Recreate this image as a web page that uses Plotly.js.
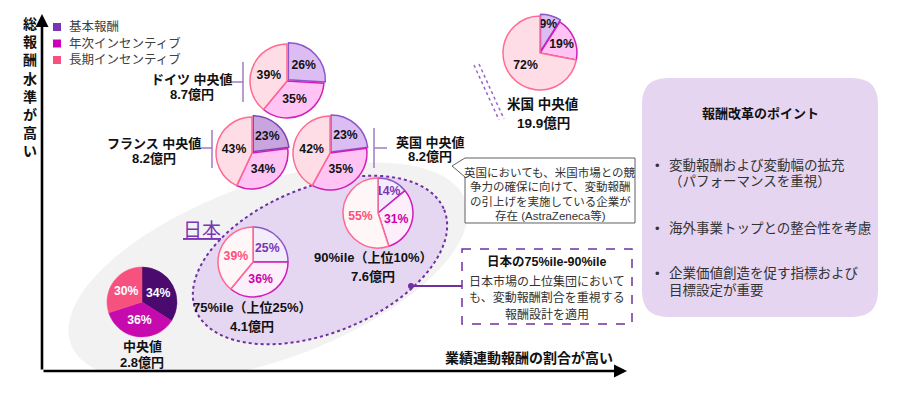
<!DOCTYPE html>
<html><head><meta charset="utf-8">
<script src="https://cdn.plot.ly/plotly-3.0.1.min.js"></script>
<style>html,body{margin:0;padding:0;background:#fff}</style>
</head><body><div id="chart" style="width:900px;height:396px"></div>
<script>
// ---------------- DATA ----------------
const components = ['基本報酬', '年次インセンティブ', '長期インセンティブ'];
const markets = ['ドイツ 中央値', 'フランス 中央値', '英国 中央値', '米国 中央値', '90%ile（上位10%）', '75%ile（上位25%）', '中央値'];
const totalPay = [8.7, 8.2, 8.2, 19.9, 7.6, 4.1, 2.8];   // 億円
const baseShare = [26, 23, 23, 9, 14, 25, 34];
const annualShare = [35, 34, 35, 19, 31, 36, 36];
const longShare = [39, 43, 42, 72, 55, 39, 30];
const yAxisLabel = '総報酬水準が高い';
const xAxisLabel = '業績連動報酬の割合が高い';
const japanLabel = '日本';
const ukNote = ['英国においても、米国市場との競', '争力の確保に向けて、変動報酬', 'の引上げを実施している企業が', '存在 (AstraZeneca等)'];
const japanNoteTitle = '日本の75%ile-90%ile';
const japanNote = ['日本市場の上位集団において', 'も、変動報酬割合を重視する', '報酬設計を適用'];
const reformTitle = '報酬改革のポイント';
const reformPoints = [['変動報酬および変動幅の拡充', '（パフォーマンスを重視）'], ['海外事業トップとの整合性を考慮'], ['企業価値創造を促す指標および', '目標設定が重要']];

// ---------------- STYLE / GEOMETRY ----------------
const W = 900, H = 396;
const FONT = 'Liberation Sans, Noto Sans CJK JP, sans-serif';
const X = px => px / W, Y = py => 1 - py / H;
const P = (x, y) => `${(x / W).toFixed(5)},${(1 - y / H).toFixed(5)}`;

const pieGeom = [
  {cx: 287, cy: 81, r: 37, pull: 0.05, style: 'intl', lx: 192, ly1: 79, ly2: 95},
  {cx: 252, cy: 153, r: 36, pull: 0.05, style: 'intlDark', lx: 154, ly1: 143, ly2: 158},
  {cx: 330, cy: 153, r: 37, pull: 0.04, style: 'intl', lx: 430, ly1: 142, ly2: 157},
  {cx: 540, cy: 53, r: 37, pull: 0.05, style: 'intl', lx: 543, ly1: 104, ly2: 123},
  {cx: 378, cy: 213, r: 35, pull: 0, style: 'jpLight', lx: 373, ly1: 257, ly2: 276},
  {cx: 253, cy: 262, r: 35, pull: 0, style: 'jpLight', lx: 252, ly1: 307, ly2: 326},
  {cx: 142, cy: 302, r: 35, pull: 0, style: 'jpSolid', lx: 142, ly1: 346, ly2: 362}
];
const styles = {
  intl: {fill: ['#dcbdf3', '#ffc3f4', '#ffdde7'], line: ['#8e55c8', '#d21cba', '#ff6a92'], text: ['#111', '#111', '#111']},
  intlDark: {fill: ['#c9a5df', '#ffc3f4', '#ffdde7'], line: ['#7e45b8', '#d21cba', '#ff6a92'], text: ['#111', '#111', '#111']},
  jpLight: {fill: ['#f3ecfb', '#fdeefb', '#fff6f8'], line: ['#8e55c8', '#d21cba', '#ff6a92'], text: ['#7a35b5', '#cc00aa', '#ff4f7b']},
  jpSolid: {fill: ['#4a0a6e', '#c70aae', '#f7527f'], line: ['#4a0a6e', '#c70aae', '#f7527f'], text: ['#fff', '#fff', '#fff']}
};
const legendColors = ['#7a35b5', '#cc00bb', '#f7527f'];

// ---------------- TRACES ----------------
const traces = markets.map((m, i) => {
  const g = pieGeom[i], s = styles[g.style];
  const R = g.r * (1 + g.pull);
  return {
    type: 'pie', name: m, labels: components,
    values: [baseShare[i], annualShare[i], longShare[i]],
    sort: false, direction: 'clockwise', rotation: 0,
    pull: [g.pull, 0, 0],
    domain: {x: [X(g.cx - R), X(g.cx + R)], y: [Y(g.cy + R), Y(g.cy - R)]},
    marker: {colors: s.fill, line: {color: s.line, width: g.style === 'jpSolid' ? 0.5 : 1.5}},
    texttemplate: '%{value}%', textposition: 'inside', insidetextorientation: 'horizontal',
    textfont: {family: FONT, size: 13, color: s.text, weight: 'bold'},
    hoverinfo: 'skip', showlegend: false
  };
});

// ---------------- SHAPES ----------------
function ellipsePath(cx, cy, a, b, deg) {
  const th = deg * Math.PI / 180, n = 90; let d = '';
  for (let k = 0; k <= n; k++) {
    const t = 2 * Math.PI * k / n;
    const x = cx + a * Math.cos(t) * Math.cos(th) + b * Math.sin(t) * Math.sin(th);
    const y = cy - a * Math.cos(t) * Math.sin(th) + b * Math.sin(t) * Math.cos(th);
    d += (k === 0 ? 'M' : 'L') + P(x, y) + ' ';
  }
  return d + 'Z';
}
function roundRect(x0, y0, x1, y1, r) {
  return `M${P(x0 + r, y0)} L${P(x1 - r, y0)} Q${P(x1, y0)} ${P(x1, y0 + r)} L${P(x1, y1 - r)} Q${P(x1, y1)} ${P(x1 - r, y1)} L${P(x0 + r, y1)} Q${P(x0, y1)} ${P(x0, y1 - r)} L${P(x0, y0 + r)} Q${P(x0, y0)} ${P(x0 + r, y0)} Z`;
}
const line = (x0, y0, x1, y1, color, width, dash) => ({type: 'line', xref: 'paper', yref: 'paper', x0: X(x0), y0: Y(y0), x1: X(x1), y1: Y(y1), line: {color, width, dash: dash || 'solid'}, layer: 'above'});
const bracketColor = '#a07ac4';

const shapes = [
  {type: 'path', xref: 'paper', yref: 'paper', path: ellipsePath(268, 272, 210, 88, 20), fillcolor: '#f2f2f2', line: {width: 0}, layer: 'below'},
  {type: 'rect', xref: 'paper', yref: 'paper', x0: 0, x1: 1, y0: 0, y1: Y(372), fillcolor: '#ffffff', line: {width: 0}, layer: 'below'},
  {type: 'path', xref: 'paper', yref: 'paper', path: ellipsePath(320, 260, 134, 73, 22), fillcolor: '#e5d6f2', line: {color: '#7030a0', width: 2, dash: 'dot'}, layer: 'below'},
  // brackets
  line(243, 62, 243, 102, bracketColor, 1.5), line(230, 82, 243, 82, bracketColor, 1.5),
  line(212, 130, 212, 168, bracketColor, 1.5), line(197, 148, 212, 148, bracketColor, 1.5),
  line(374, 128, 374, 168, bracketColor, 1.5), line(374, 148, 387, 148, bracketColor, 1.5),
  // US break marks
  line(474, 65, 499, 120, '#9966cc', 1.5, 'dot'), line(479, 64, 504, 119, '#9966cc', 1.5, 'dot'),
  // UK callout
  {type: 'path', xref: 'paper', yref: 'paper', path: `M${P(465, 158)} L${P(635, 158)} L${P(635, 223)} L${P(465, 223)} L${P(465, 177)} L${P(452, 166)} Z`, fillcolor: '#ffffff', line: {color: '#606060', width: 1}, layer: 'below'},
  // Japan note box
  {type: 'rect', xref: 'paper', yref: 'paper', x0: X(462), y0: Y(249), x1: X(632), y1: Y(324), fillcolor: '#ffffff', line: {color: '#7030a0', width: 1.5, dash: 'dash'}, layer: 'below'},
  line(411, 286, 462, 286, '#7030a0', 2),
  {type: 'circle', xref: 'paper', yref: 'paper', x0: X(408), y0: Y(289), x1: X(414), y1: Y(283), fillcolor: '#7030a0', line: {width: 0}, layer: 'above'},
  // reform box
  {type: 'path', xref: 'paper', yref: 'paper', path: roundRect(642, 78, 878, 317, 26), fillcolor: '#e6d5f1', line: {width: 0}, layer: 'below'}
];
// legend squares
legendColors.forEach((c, k) => {
  const cy = 27 + k * 16.5;
  shapes.push({type: 'rect', xref: 'paper', yref: 'paper', x0: X(53), x1: X(61), y0: Y(cy + 4), y1: Y(cy - 4), fillcolor: c, line: {width: 0}});
});

// ---------------- ANNOTATIONS ----------------
const txt = (x, y, text, size, opts = {}) => Object.assign({
  xref: 'paper', yref: 'paper', x: X(x), y: Y(y), text, showarrow: false,
  xanchor: 'center', yanchor: 'middle',
  font: {family: FONT, size, color: opts.color || '#111', weight: opts.weight || 'normal'}
}, opts.extra || {});

const annotations = [];
// axes arrows
annotations.push({xref: 'paper', yref: 'paper', x: X(627), y: Y(371), ax: -585, ay: 0, text: '', showarrow: true, arrowhead: 2, arrowsize: 1, arrowwidth: 2.6, arrowcolor: '#000', standoff: 0});
annotations.push({xref: 'paper', yref: 'paper', x: X(42), y: Y(14), ax: 0, ay: 357, text: '', showarrow: true, arrowhead: 2, arrowsize: 1, arrowwidth: 2.6, arrowcolor: '#000', standoff: 0});
annotations.push(txt(30, 87, yAxisLabel.split('').join('<br>'), 14, {weight: 'bold'}));
annotations.push(txt(615, 358, xAxisLabel, 14, {weight: 'bold', extra: {xanchor: 'right'}}));
// legend text
components.forEach((c, k) => annotations.push(txt(67, 27 + k * 16.5, c, 12.5, {color: '#404040', extra: {xanchor: 'left'}})));
// pie labels
markets.forEach((m, i) => {
  const g = pieGeom[i];
  const sz = i === 3 ? 13.5 : 13;
  annotations.push(txt(g.lx, g.ly1, m, sz, {weight: 'bold'}));
  annotations.push(txt(g.lx, g.ly2, totalPay[i].toFixed(1) + '億円', sz, {weight: 'bold'}));
});
// Japan label
annotations.push(txt(202, 230, japanLabel, 19, {extra: {font: {family: FONT, size: 19, color: '#7a35b5', lineposition: 'under'}}}));
// UK note
ukNote.forEach((t, k) => annotations.push(txt(550, 172 + k * 14.5, t, 11.5, {color: '#333'})));
// Japan note
annotations.push(txt(547, 261, japanNoteTitle, 12.5, {weight: 'bold'}));
japanNote.forEach((t, k) => annotations.push(txt(547, 281 + k * 16.5, t, 12, {color: '#333'})));
// reform box
annotations.push(txt(760, 113, reformTitle, 13, {weight: 'bold'}));
const reformY = [[165, 181], [228], [273, 290]];
reformPoints.forEach((pt, k) => {
  annotations.push(txt(657, reformY[k][0], '•', 13, {color: '#333'}));
  pt.forEach((t, j) => annotations.push(txt(667, reformY[k][j], t, 13.5, {color: '#333', extra: {xanchor: 'left'}})));
});

const layout = {
  width: W, height: H, margin: {l: 0, r: 0, t: 0, b: 0},
  paper_bgcolor: '#ffffff', showlegend: false, hovermode: false,
  uniformtext: {mode: 'show', minsize: 12},
  shapes, annotations
};
Plotly.newPlot('chart', traces, layout, {staticPlot: true, displayModeBar: false});
</script></body></html>
